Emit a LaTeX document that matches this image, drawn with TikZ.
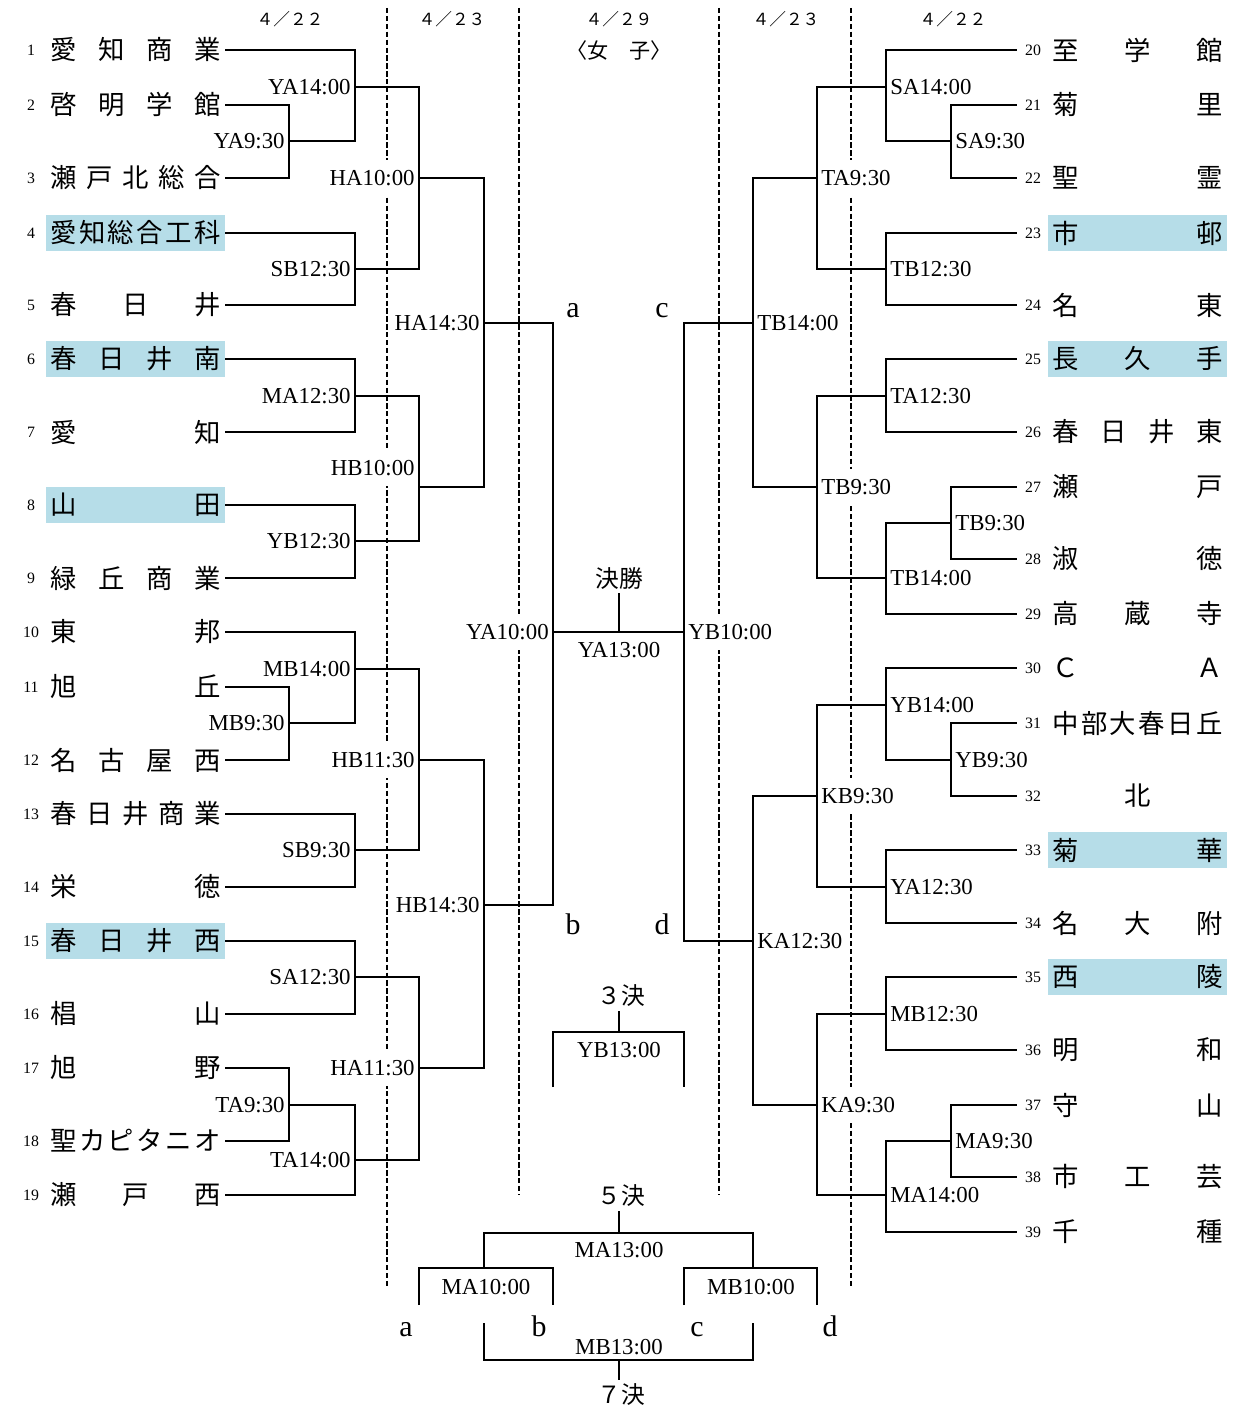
\documentclass[tikz,border=0pt]{standalone}
\usepackage{fontspec}
\setmainfont{Liberation Serif}
\newfontfamily\jp{Noto Sans CJK JP}
\usepackage{xcolor}
\definecolor{litblue}{RGB}{182,221,232}
\tikzstyle{team} = [inner xsep=0.09cm, inner ysep=0pt, minimum height=0.72cm, font=\jp\fontsize{15}{15}\selectfont]
\tikzstyle{lit} = [fill=litblue]
\tikzstyle{unlit} = []
\tikzstyle{num} = [inner sep=0pt, minimum width=0.64cm, font=\fontsize{9}{9}\selectfont]
\tikzstyle{slot} = [fill=white, inner xsep=0.04cm, inner ysep=0.2cm, font=\fontsize{13}{13}\selectfont]
\tikzstyle{bracket} = [line width=1.1pt]
\tikzstyle{guide} = [line width=0.8pt, dash pattern=on 3pt off 1.5pt]
\tikzstyle{datehead} = [font=\jp\fontsize{9.5}{9.5}\selectfont]
\tikzstyle{stage} = [inner sep=2pt, font=\jp\fontsize{13.5}{13.5}\selectfont]
\tikzstyle{tag} = [anchor=base, font=\fontsize{17}{17}\selectfont]
% spread a school name over the full width
\newcommand\spreadname[1]{\hbox to 3.4cm{\expandafter\spreadfirst#1\relax}}
\def\spreadfirst#1{#1\spreadrest}
\def\spreadrest#1{\ifx\relax#1\else\hfil#1\expandafter\spreadrest\fi}
\begin{document}
\begin{tikzpicture}[x=0.02cm, y=-0.02cm]
    
        \fill[white] (0,0) rectangle (1240,1408);
        \useasboundingbox (0,0) rectangle (1240,1408);
    
        % Dates
        \node (d1) [datehead] at (290,19) {４／２２};
        \node (d2) [datehead] at (452,19) {４／２３};
        \node (d3) [datehead] at (619,19) {４／２９};
        \node (d4) [datehead] at (786,19) {４／２３};
        \node (d5) [datehead] at (953,19) {４／２２};
        \node (title) [font=\jp\fontsize{12}{12}\selectfont] at (619,50) {〈女　子〉};
    
        % Day lines
        \draw [guide] (387,8) -- (387,1287);
        \draw [guide] (519,8) -- (519,1195);
        \draw [guide] (719,8) -- (719,1195);
        \draw [guide] (851,8) -- (851,1287);
    
        % Schools
        \foreach \n/\nm/\y/\s in {1/愛知商業/50/unlit, 2/啓明学館/105/unlit, 3/瀬戸北総合/178/unlit,
            4/愛知総合工科/233/lit, 5/春日井/305/unlit, 6/春日井南/359/lit, 7/愛知/432/unlit,
            8/山田/505/lit, 9/緑丘商業/578/unlit, 10/東邦/632/unlit, 11/旭丘/687/unlit,
            12/名古屋西/760/unlit, 13/春日井商業/814/unlit, 14/栄徳/887/unlit, 15/春日井西/941/lit,
            16/椙山/1014/unlit, 17/旭野/1068/unlit, 18/聖カピタニオ/1141/unlit, 19/瀬戸西/1195/unlit}
        {
            \node (k\n) [num] at (31,\y) {\n};
            \node (n\n) [team, \s] at (135.5,\y) {\spreadname{\nm}};
        }
        \foreach \n/\nm/\y/\s in {20/至学館/50/unlit, 21/菊里/105/unlit, 22/聖霊/178/unlit,
            23/市邨/233/lit, 24/名東/305/unlit, 25/長久手/359/lit, 26/春日井東/432/unlit,
            27/瀬戸/487/unlit, 28/淑徳/559/unlit, 29/高蔵寺/614/unlit, 30/ＣＡ/668/unlit,
            31/中部大春日丘/723/unlit, 32/\null 北\null/796/unlit, 33/菊華/850/lit, 34/名大附/923/unlit,
            35/西陵/977/lit, 36/明和/1050/unlit, 37/守山/1105/unlit, 38/市工芸/1177/unlit, 39/千種/1232/unlit}
        {
            \node (k\n) [num] at (1033,\y) {\n};
            \node (n\n) [team, \s] at (1137.5,\y) {\spreadname{\nm}};
        }
    
        % Matches
        \foreach \m/\x/\y/\lab in {L1/289/141/YA9:30, L2/355/87/YA14:00, L3/355/269/SB12:30,
            L4/419/178/HA10:00, L5/355/396/MA12:30, L6/355/541/YB12:30,
            L8/484/323/HA14:30, L9/289/723/MB9:30, L10/355/669/MB14:00, L11/355/850/SB9:30,
            L12/419/760/HB11:30, L13/355/977/SA12:30, L14/289/1105/TA9:30, L15/355/1160/TA14:00,
            L16/419/1068/HA11:30, L17/484/905/HB14:30, L18/553/632/YA10:00}
        {
            \coordinate (\m) at (\x,\y);
            \node (t\m) [slot, anchor=east, xshift=-0.04cm] at (\m) {\lab};
        }
        \coordinate (L7) at (419,487);
        \node (tL7) [slot, anchor=east, xshift=-0.04cm] at (419,468) {HB10:00};
        \foreach \m/\x/\y/\lab in {R1/951/141/SA9:30, R2/886/87/SA14:00, R3/886/269/TB12:30,
            R4/817/178/TA9:30, R5/886/396/TA12:30, R6/951/523/TB9:30, R7/886/578/TB14:00,
            R8/817/487/TB9:30, R9/753/323/TB14:00, R10/951/760/YB9:30, R11/886/705/YB14:00,
            R12/886/887/YA12:30, R13/817/796/KB9:30, R14/886/1014/MB12:30, R15/951/1141/MA9:30,
            R16/886/1195/MA14:00, R17/817/1105/KA9:30, R18/753/941/KA12:30, R19/684/632/YB10:00}
        {
            \coordinate (\m) at (\x,\y);
            \node (t\m) [slot, anchor=west, xshift=0.04cm] at (\m) {\lab};
        }
    
        % Final and placings
        \coordinate (cF) at (619,632);
        \node (fin) [stage] at (619,578) {決勝};
        \node (tF) [slot] at (619,650) {YA13:00};
        \coordinate (c3) at (619,1032);
        \coordinate (e3a) at (553,1087);
        \coordinate (e3b) at (684,1087);
        \node (s3) [stage] at (621,996) {３決};
        \node (t3) [slot] at (619,1050) {YB13:00};
        \coordinate (c5) at (619,1233);
        \coordinate (q5a) at (484,1268);
        \coordinate (q5b) at (753,1268);
        \coordinate (ea) at (419,1305);
        \coordinate (eb) at (553,1305);
        \coordinate (ec) at (684,1305);
        \coordinate (ed) at (817,1305);
        \node (s5) [stage] at (621,1196) {５決};
        \node (t5) [slot] at (619,1250) {MA13:00};
        \node (t5a) [slot] at (486,1287) {MA10:00};
        \node (t5b) [slot] at (751,1287) {MB10:00};
        \coordinate (c7) at (619,1360);
        \coordinate (f7a) at (484,1323);
        \coordinate (f7b) at (753,1323);
        \node (s7) [stage] at (621,1395) {７決};
        \node (t7) [slot] at (619,1347) {MB13:00};
    
        % Letters
        \node (ua) [tag] at (573,318) {a};
        \node (uc) [tag] at (662,318) {c};
        \node (ub) [tag] at (573,934) {b};
        \node (ud) [tag] at (662,934) {d};
        \node (la) [tag] at (406,1336) {a};
        \node (lb) [tag] at (539,1336) {b};
        \node (lc) [tag] at (697,1336) {c};
        \node (ld) [tag] at (830,1336) {d};
    
        % Brackets
        \foreach \a/\b/\m in {n2.east/n3.east/L1, n1.east/L1/L2, n4.east/n5.east/L3, L2/L3/L4,
            n6.east/n7.east/L5, n8.east/n9.east/L6, L5/L6/L7, L4/L7/L8,
            n11.east/n12.east/L9, n10.east/L9/L10, n13.east/n14.east/L11, L10/L11/L12,
            n15.east/n16.east/L13, n17.east/n18.east/L14, L14/n19.east/L15, L13/L15/L16,
            L12/L16/L17, L8/L17/L18,
            k21.west/k22.west/R1, k20.west/R1/R2, k23.west/k24.west/R3, R2/R3/R4,
            k25.west/k26.west/R5, k27.west/k28.west/R6, R6/k29.west/R7, R5/R7/R8, R4/R8/R9,
            k31.west/k32.west/R10, k30.west/R10/R11, k33.west/k34.west/R12, R11/R12/R13,
            k35.west/k36.west/R14, k37.west/k38.west/R15, R15/k39.west/R16, R14/R16/R17,
            R13/R17/R18, R9/R18/R19}
            \draw [bracket] (\a) -| (\m) |- (\b);
        \draw [bracket] (L18) -- (R19);
        \draw [bracket] (cF) -- (cF |- fin.south);
        \draw [bracket] (e3a) |- (c3) -| (e3b);
        \draw [bracket] (c3) -- (c3 |- s3.south);
        \draw [bracket] (q5a) |- (c5) -| (q5b);
        \draw [bracket] (c5) -- (c5 |- s5.south);
        \draw [bracket] (ea) |- (q5a) -| (eb);
        \draw [bracket] (ec) |- (q5b) -| (ed);
        \draw [bracket] (f7a) |- (c7) -| (f7b);
        \draw [bracket] (c7) -- (c7 |- s7.north);
    
    \end{tikzpicture}
\end{document}
